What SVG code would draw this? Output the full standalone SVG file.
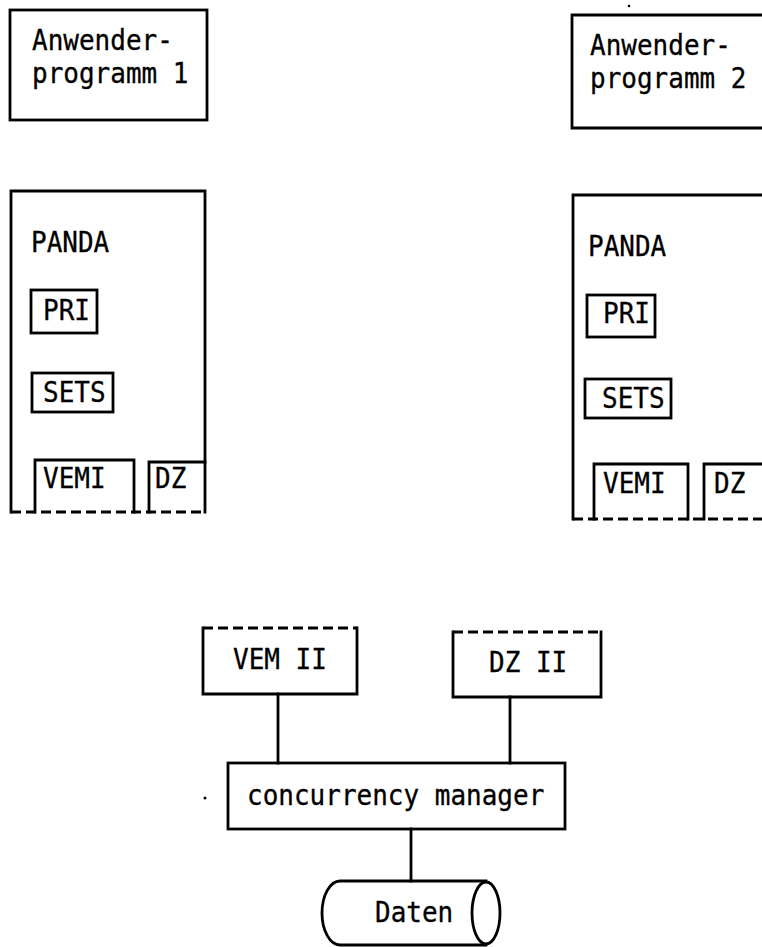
<svg xmlns="http://www.w3.org/2000/svg" width="762" height="947" viewBox="0 0 762 947">
<style>
.ln{fill:none;stroke:#000;stroke-width:2.8;stroke-linecap:square}
.ds{fill:none;stroke:#000;stroke-width:2.8;stroke-dasharray:10 5}
text{font-family:"DejaVu Sans Mono","Liberation Mono",monospace;font-size:26px;fill:#000;stroke:#000;stroke-width:0.3}
</style>
<rect width="762" height="947" fill="#fff"/>
<g id="anwender1">
<rect class="ln" x="10" y="10" width="197" height="110"/>
<text transform="translate(32,50) scale(1,1.12)">Anwender-</text>
<text transform="translate(32,83) scale(1,1.12)">programm 1</text>
</g>
<g id="anwender2">
<path class="ln" d="M764 15 H572 V128 H764"/>
<text transform="translate(590,55) scale(1,1.12)">Anwender-</text>
<text transform="translate(590,88) scale(1,1.12)">programm 2</text>
</g>
<g id="panda1">
<path class="ln" d="M11 512 V191 H205 V512"/>
<path class="ds" d="M11 512 H205"/>
<text transform="translate(31,252) scale(1,1.12)">PANDA</text>
</g>
<g id="pri1">
<rect class="ln" x="31" y="290" width="66" height="43"/>
<text transform="translate(43,320) scale(1,1.12)">PRI</text>
</g>
<g id="sets1">
<rect class="ln" x="32" y="373" width="81" height="39"/>
<text transform="translate(43,402) scale(1,1.12)">SETS</text>
</g>
<g id="vemi1">
<path class="ln" d="M35 512 V460 H134 V512"/>
<text transform="translate(43,488) scale(1,1.12)">VEMI</text>
</g>
<g id="dz1">
<path class="ln" d="M149 512 V462 H205"/>
<text transform="translate(155,488) scale(1,1.12)">DZ</text>
</g>
<g id="panda2">
<path class="ln" d="M764 195 H573 V519"/>
<path class="ds" d="M573 519 H764"/>
<text transform="translate(588,256) scale(1,1.12)">PANDA</text>
</g>
<g id="pri2">
<rect class="ln" x="587" y="295" width="68" height="42"/>
<text transform="translate(603,323) scale(1,1.12)">PRI</text>
</g>
<g id="sets2">
<rect class="ln" x="585" y="379" width="86" height="39"/>
<text transform="translate(602,408) scale(1,1.12)">SETS</text>
</g>
<g id="vemi2">
<path class="ln" d="M594 519 V464 H688 V519"/>
<text transform="translate(603,493) scale(1,1.12)">VEMI</text>
</g>
<g id="dz2">
<path class="ln" d="M704 519 V464 H764"/>
<text transform="translate(714,493) scale(1,1.12)">DZ</text>
</g>
<g id="vem2">
<path class="ds" d="M203 628 H357"/>
<path class="ln" d="M357 628 V694 H203 V628"/>
<text transform="translate(233,669) scale(1,1.12)">VEM II</text>
</g>
<g id="dz2box">
<path class="ds" d="M453 632 H601"/>
<path class="ln" d="M601 632 V697 H453 V632"/>
<text transform="translate(489,672) scale(1,1.12)">DZ II</text>
</g>
<g id="manager">
<rect class="ln" x="228" y="763" width="337" height="66"/>
<text transform="translate(247,805) scale(1,1.12)">concurrency manager</text>
</g>
<g id="daten">
<path class="ln" d="M486 881 H340 A18 32 0 0 0 340 945 H486"/>
<ellipse class="ln" cx="486" cy="913" rx="14" ry="31"/>
<text transform="translate(375,922) scale(1,1.12)">Daten</text>
</g>
<g id="connectors">
<path class="ln" d="M278 694 V763"/>
<path class="ln" d="M510 697 V763"/>
<path class="ln" d="M411 829 V881"/>
</g>
<g id="marks">
<circle cx="629" cy="6" r="1.3" fill="#000"/>
<circle cx="205" cy="798" r="1.5" fill="#000"/>
</g>
</svg>
